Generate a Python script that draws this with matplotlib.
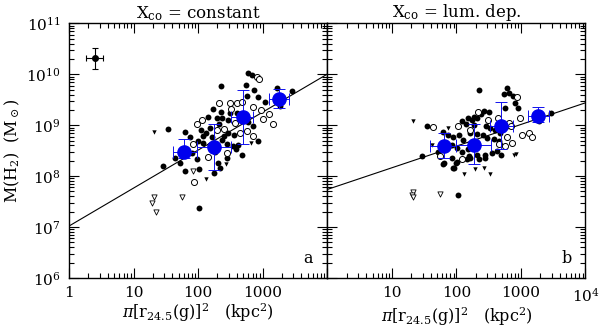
import numpy as np
import matplotlib
matplotlib.use("Agg")
import matplotlib.pyplot as plt
from matplotlib.ticker import LogLocator, NullFormatter

plt.rcParams['font.family'] = ['DejaVu Serif']
plt.rcParams['mathtext.fontset'] = 'dejavuserif'

# values are log10(area / kpc^2), log10(M(H2) / Msun)
# ---- panel a: X_CO = constant
a_fill_x = [2.780, 2.832, 2.351, 2.739, 2.863, 3.225, 3.462, 3.271, 2.930, 3.039, 2.754, 2.238,
            2.351, 2.496, 2.599, 2.150, 2.289, 2.377, 2.460, 2.775, 2.853, 1.540, 1.798, 1.876,
            2.186, 2.470, 2.563, 2.930, 2.083, 2.005, 2.083, 2.186, 2.377, 2.444, 2.548, 2.625,
            2.444, 2.589, 2.682, 1.643, 1.721, 1.979, 2.315, 2.341, 2.248, 2.016, 1.798, 1.463,
            2.016, 2.120, 2.210, 2.300, 2.050, 2.400, 2.260, 2.330, 1.900, 2.700]
a_fill_y = [10.033, 9.981, 9.774, 9.787, 9.689, 9.722, 9.676, 9.378, 9.560, 9.462, 9.579, 9.320,
            9.255, 9.235, 9.235, 9.171, 9.138, 9.151, 9.106, 9.060, 8.989, 8.931, 8.866, 8.762,
            8.944, 8.846, 8.814, 8.684, 8.781, 8.697, 8.652, 8.619, 8.704, 8.632, 8.587, 8.619,
            8.360, 8.541, 8.425, 8.360, 8.263, 8.327, 8.263, 8.165, 8.068, 8.133, 8.100, 8.198,
            7.374, 8.850, 8.760, 8.560, 8.900, 8.780, 8.480, 9.020, 8.450, 9.150]
a_open_x = [2.910, 2.946, 2.331, 2.496, 2.512, 2.599, 2.677, 2.853, 2.977, 3.106, 3.003, 3.158,
            2.057, 1.990, 2.574, 2.289, 2.403, 2.651, 2.754, 2.858, 1.928, 2.444, 2.160, 1.943]
a_open_y = [9.949, 9.903, 9.443, 9.430, 9.320, 9.430, 9.462, 9.365, 9.300, 9.216, 9.125, 9.021,
            9.112, 9.015, 9.041, 8.911, 8.924, 8.846, 8.892, 8.781, 8.632, 8.457, 8.373, 7.893]
a_tri_x = [1.323, 2.434, 2.124, 2.820]
a_tri_y = [8.866, 8.243, 7.938, 8.650]
a_otri_x = [1.323, 1.292, 1.354, 1.747, 1.930]
a_otri_y = [7.582, 7.471, 7.290, 7.595, 8.100]
a_bin_x = [1.788, 2.253, 2.693, 3.260]
a_bin_y = [8.48, 8.57, 9.16, 9.52]
a_bin_xlo = [1.61, 1.98, 2.51, 3.10]
a_bin_xhi = [1.98, 2.51, 2.85, 3.41]
a_bin_ylo = [8.36, 8.13, 8.63, 9.33]
a_bin_yhi = [8.73, 9.03, 9.69, 9.72]
a_fit = [7.02, 0.745]  # intercept, slope (log-log)

# ---- panel b: X_CO = lum. dep.
b_fill_x = [2.783, 2.809, 2.877, 2.353, 2.742, 2.903, 2.757, 2.954, 2.420, 2.498, 2.379, 2.317,
            2.265, 2.172, 2.239, 2.083, 2.151, 2.275, 2.452, 2.524, 2.602, 2.669, 1.539, 1.798,
            1.876, 1.944, 2.032, 2.099, 2.213, 2.317, 2.410, 2.472, 2.576, 2.654, 2.291, 2.172,
            2.006, 1.928, 1.840, 1.721, 2.083, 2.187, 2.317, 2.446, 2.550, 2.628, 2.690, 2.203,
            2.343, 2.446, 1.798, 1.928, 1.954, 2.006, 2.161, 1.461, 3.468, 3.276, 2.016, 1.800,
            1.944, 1.990]
b_fill_y = [9.735, 9.637, 9.579, 9.683, 9.605, 9.430, 9.333, 9.333, 9.287, 9.255, 9.216, 9.151,
            9.171, 9.151, 9.106, 9.073, 9.021, 9.008, 8.976, 8.944, 8.911, 8.846, 8.989, 8.866,
            8.801, 8.762, 8.801, 8.717, 8.846, 8.827, 8.814, 8.749, 8.736, 8.697, 8.632, 8.541,
            8.554, 8.606, 8.541, 8.477, 8.477, 8.392, 8.425, 8.425, 8.457, 8.490, 8.412, 8.347,
            8.327, 8.360, 8.243, 8.360, 8.165, 8.282, 8.327, 8.386, 9.248, 9.073, 7.634, 8.250,
            8.165, 8.250]
b_open_x = [1.643, 2.332, 2.483, 2.638, 2.809, 2.939, 2.991, 2.783, 2.861, 2.757, 2.654, 2.083,
            1.747, 2.016, 3.120, 3.172, 3.017, 2.851, 2.203]
b_open_y = [8.957, 9.255, 9.106, 9.151, 9.041, 9.560, 9.138, 8.762, 8.652, 8.587, 8.632, 8.327,
            8.386, 8.976, 8.846, 8.768, 8.814, 8.976, 8.911]
b_tri_x = [1.321, 1.861, 1.617, 2.109, 2.281, 2.420, 2.514, 2.887, 2.928]
b_tri_y = [9.073, 8.944, 8.606, 8.049, 8.146, 8.152, 8.036, 8.425, 8.444]
b_otri_x = [1.332, 1.306, 1.320, 1.747]
b_otri_y = [7.679, 7.630, 7.600, 7.646]
b_bin_x = [1.80, 2.264, 2.69, 3.26]
b_bin_y = [8.60, 8.61, 8.98, 9.19]
b_bin_xlo = [1.59, 2.00, 2.52, 3.11]
b_bin_xhi = [2.00, 2.53, 2.88, 3.43]
b_bin_ylo = [8.36, 8.23, 8.54, 9.07]
b_bin_yhi = [8.85, 9.02, 9.45, 9.35]
b_fit = [7.74, 0.425]

# typical error point (panel a)
err_x, err_y = 0.40, 10.32
err_xlo, err_xhi = 0.26, 0.53
err_ylo, err_yhi = 10.11, 10.51

xtick_vals = [1, 10, 100, 1000, 1e4]
ytick_vals = [1e6, 1e7, 1e8, 1e9, 1e10, 1e11]
ytick_labels = ['10$^{6}$', '10$^{7}$', '10$^{8}$', '10$^{9}$', '10$^{10}$', '10$^{11}$']

fig = plt.figure(figsize=(6.0, 3.29), dpi=100)
ax1 = fig.add_axes([0.115, 0.155, 0.43, 0.774])
ax2 = fig.add_axes([0.5458, 0.155, 0.43, 0.774])


def p(v):
    return 10 ** np.asarray(v, dtype=float)


def draw_panel(ax, fill, opn, tri, otri, bins, fit, letter, title, xlabels):
    ax.set_xscale('log')
    ax.set_yscale('log')
    ax.set_xlim(1, 1e4)
    ax.set_ylim(1e6, 1e11)

    ax.scatter(p(fill[0]), p(fill[1]), s=18, c='k', marker='o', linewidths=0, zorder=3)
    ax.scatter(p(opn[0]), p(opn[1]), s=19, facecolors='white', edgecolors='k',
               marker='o', linewidths=0.7, zorder=3)
    ax.scatter(p(tri[0]), p(tri[1]), s=10, c='k', marker='v', linewidths=0, zorder=3)
    ax.scatter(p(otri[0]), p(otri[1]), s=14, facecolors='white', edgecolors='k',
               marker='v', linewidths=0.6, zorder=3)

    xx = np.array([0.0, 4.0])
    ax.plot(p(xx), p(fit[0] + fit[1] * xx), color='k', lw=0.8, zorder=2)

    bx, by, xlo, xhi, ylo, yhi = [np.asarray(b) for b in bins]
    xerr = [p(bx) - p(xlo), p(xhi) - p(bx)]
    yerr = [p(by) - p(ylo), p(yhi) - p(by)]
    ax.errorbar(p(bx), p(by), xerr=xerr, yerr=yerr, fmt='o', color='#1010ee',
                ms=9.5, mec='#0000ee', mfc='#0000ee', elinewidth=0.7, capsize=4,
                capthick=0.7, zorder=4)

    ax.set_xticks(xtick_vals)
    ax.set_xticklabels(xlabels)
    ax.xaxis.set_minor_locator(LogLocator(base=10, subs=np.arange(2, 10)))
    ax.xaxis.set_minor_formatter(NullFormatter())
    ax.yaxis.set_minor_locator(LogLocator(base=10, subs=np.arange(2, 10)))
    ax.yaxis.set_minor_formatter(NullFormatter())
    ax.tick_params(which='both', direction='in', top=True, right=True, labelsize=11,
                   width=0.8, pad=6)
    ax.tick_params(which='major', length=7)
    ax.tick_params(which='minor', length=3.5)
    for sp in ax.spines.values():
        sp.set_linewidth(1.0)

    ax.text(0.945, 0.045, letter, transform=ax.transAxes, fontsize=11.5, ha='right', va='bottom')
    ax.set_title(title, fontsize=12, pad=4)
    ax.set_xlabel(r'$\pi$[r$_{24.5}$(g)]$^{2}$   (kpc$^{2}$)', fontsize=11.5, labelpad=1)


draw_panel(ax1, (a_fill_x, a_fill_y), (a_open_x, a_open_y), (a_tri_x, a_tri_y),
           (a_otri_x, a_otri_y),
           (a_bin_x, a_bin_y, a_bin_xlo, a_bin_xhi, a_bin_ylo, a_bin_yhi),
           a_fit, 'a', r'X$_{\rm co}$ = constant', ['1', '10', '100', '1000', ''])
draw_panel(ax2, (b_fill_x, b_fill_y), (b_open_x, b_open_y), (b_tri_x, b_tri_y),
           (b_otri_x, b_otri_y),
           (b_bin_x, b_bin_y, b_bin_xlo, b_bin_xhi, b_bin_ylo, b_bin_yhi),
           b_fit, 'b', r'X$_{\rm co}$ = lum. dep.', ['', '10', '100', '1000', '10$^{4}$'])

ax1.errorbar([10 ** err_x], [10 ** err_y],
             xerr=[[10 ** err_x - 10 ** err_xlo], [10 ** err_xhi - 10 ** err_x]],
             yerr=[[10 ** err_y - 10 ** err_ylo], [10 ** err_yhi - 10 ** err_y]],
             fmt='o', color='k', ms=4, elinewidth=0.8, capsize=2, capthick=0.8)

ax1.set_yticks(ytick_vals)
ax1.set_yticklabels(ytick_labels)
ax1.set_ylabel(r'M(H$_2$)  (M$_\odot$)', fontsize=11.5, labelpad=3)
ax2.set_yticks(ytick_vals)
ax2.set_yticklabels([''] * len(ytick_vals))

fig.savefig('out.png', dpi=100)
